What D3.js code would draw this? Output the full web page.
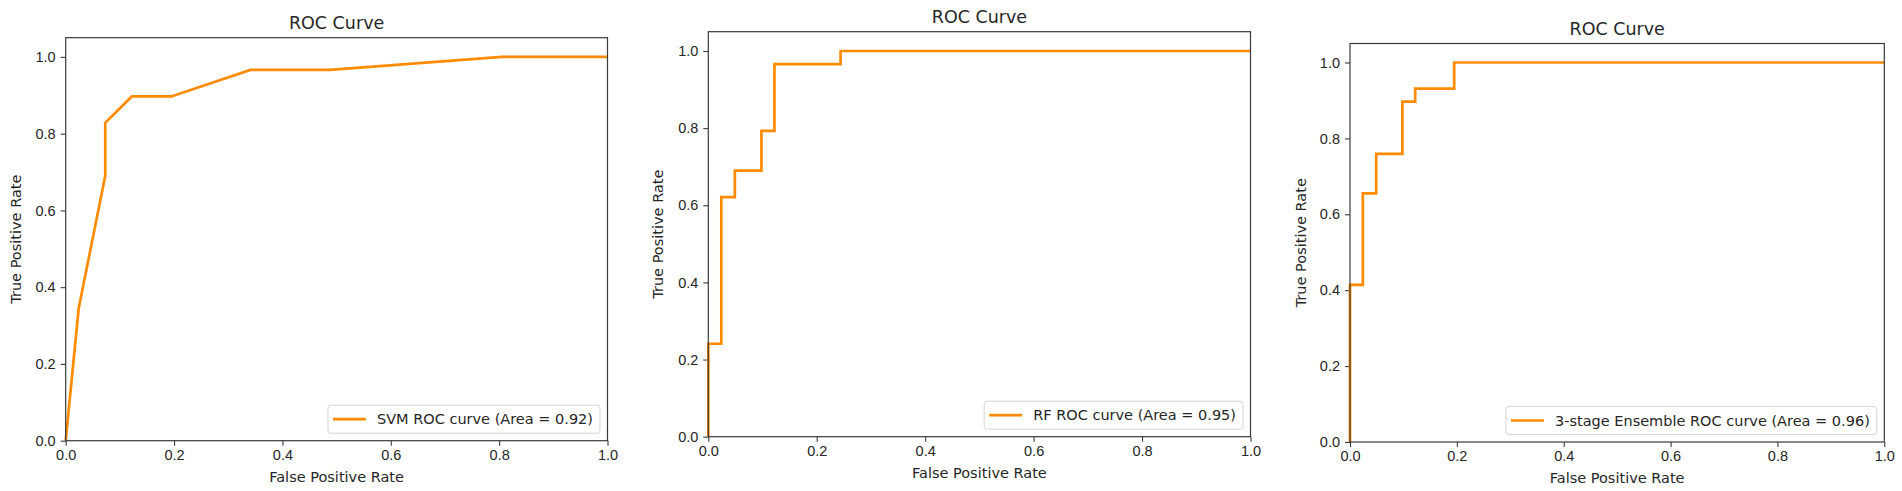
<!DOCTYPE html>
<html>
<head>
<meta charset="utf-8">
<script src="https://cdn.jsdelivr.net/npm/d3@7"></script>
<style>
  body { margin: 0; background: #fff; }
  svg { display: block; font-family: 'DejaVu Sans', sans-serif; }
</style>
</head>
<body>
<svg id="chart" width="1902" height="491"></svg>
<script>
// values
const xTicks = [0, 0.2, 0.4, 0.6, 0.8, 1.0];
const yTicks = [0, 0.2, 0.4, 0.6, 0.8, 1.0];

const svmFpr = [0, 0.024, 0.073, 0.073, 0.122, 0.195, 0.341, 0.488, 0.805, 1.0];
const svmTpr = [0, 0.345, 0.690, 0.828, 0.897, 0.897, 0.966, 0.966, 1.0, 1.0];

const rfFpr = [0, 0, 0.024, 0.024, 0.049, 0.049, 0.098, 0.098, 0.122, 0.122, 0.244, 0.244, 1.0];
const rfTpr = [0, 0.241, 0.241, 0.621, 0.621, 0.690, 0.690, 0.793, 0.793, 0.966, 0.966, 1.0, 1.0];

const ensFpr = [0, 0, 0.024, 0.024, 0.049, 0.049, 0.098, 0.098, 0.122, 0.122, 0.195, 0.195, 1.0];
const ensTpr = [0, 0.414, 0.414, 0.655, 0.655, 0.759, 0.759, 0.897, 0.897, 0.931, 0.931, 1.0, 1.0];

const labels = [
  'SVM ROC curve (Area = 0.92)',
  'RF ROC curve (Area = 0.95)',
  '3-stage Ensemble ROC curve (Area = 0.96)'
];

// panel boxes in page pixels
const panels = [
  { left: 65.7, top: 37.7, right: 607.5, bottom: 440.7, fpr: svmFpr, tpr: svmTpr, label: labels[0], ylab: 15.5 },
  { left: 708.3, top: 31.7, right: 1250.5, bottom: 436.7, fpr: rfFpr, tpr: rfTpr, label: labels[1], ylab: 658 },
  { left: 1350, top: 43.5, right: 1884.3, bottom: 442, fpr: ensFpr, tpr: ensTpr, label: labels[2], ylab: 1300.5 }
];

const textColor = '#262626';
const frameColor = '#3a3a3a';
const orange = '#ff8c00';
const fs = 14.5;

const svg = d3.select('#chart');

panels.forEach((p) => {
  const x = d3.scaleLinear().domain([0, 1]).range([p.left, p.right]);
  const y = d3.scaleLinear().domain([0, 1.05]).range([p.bottom, p.top]);

  const g = svg.append('g');

  // X 轴
  const xa = g.append('g')
    .attr('transform', `translate(0,${p.bottom})`)
    .call(d3.axisBottom(x).tickValues(xTicks).tickFormat(d3.format('.1f')).tickSize(5).tickPadding(4));
  // Y 轴
  const ya = g.append('g')
    .attr('transform', `translate(${p.left},0)`)
    .call(d3.axisLeft(y).tickValues(yTicks).tickFormat(d3.format('.1f')).tickSize(5).tickPadding(5));

  [xa, ya].forEach((a) => {
    a.select('.domain').remove();
    a.selectAll('line').attr('stroke', frameColor).attr('stroke-width', 1.1);
    a.selectAll('text').style('font-size', fs + 'px').attr('fill', textColor);
  });

  // 曲线
  const line = d3.line()
    .x((d) => x(d[0]))
    .y((d) => y(d[1]));

  g.append('path')
    .datum(p.fpr.map((f, i) => [f, p.tpr[i]]))
    .attr('fill', 'none')
    .attr('stroke', orange)
    .attr('stroke-width', 2.7)
    .attr('stroke-linejoin', 'miter')
    .attr('d', line);

  // frame
  g.append('rect')
    .attr('x', p.left)
    .attr('y', p.top)
    .attr('width', p.right - p.left)
    .attr('height', p.bottom - p.top)
    .attr('fill', 'none')
    .attr('stroke', frameColor)
    .attr('stroke-width', 1.2);

  // 标题
  g.append('text')
    .attr('x', (p.left + p.right) / 2)
    .attr('y', p.top - 8.5)
    .attr('text-anchor', 'middle')
    .style('font-size', '17.5px')
    .attr('fill', textColor)
    .text('ROC Curve');

  g.append('text')
    .attr('x', (p.left + p.right) / 2)
    .attr('y', p.bottom + 41)
    .attr('text-anchor', 'middle')
    .style('font-size', fs + 'px')
    .attr('fill', textColor)
    .text('False Positive Rate');

  g.append('text')
    .attr('transform', `translate(${p.ylab + 5},${(p.top + p.bottom) / 2}) rotate(-90)`)
    .attr('text-anchor', 'middle')
    .style('font-size', fs + 'px')
    .attr('fill', textColor)
    .text('True Positive Rate');

  // legend, lower right
  const lg = g.append('g');
  const box = lg.append('rect');
  const lt = lg.append('text')
    .style('font-size', fs + 'px')
    .attr('fill', textColor)
    .text(p.label);
  const tw = lt.node().getComputedTextLength();
  const bw = 49 + tw + 7;
  const bh = 28;
  const bx = p.right - 7.5 - bw;
  const by = p.bottom - 7.5 - bh;
  box.attr('x', bx).attr('y', by).attr('width', bw).attr('height', bh)
    .attr('rx', 3)
    .attr('fill', '#fff').attr('fill-opacity', 0.8)
    .attr('stroke', '#d4d4d4').attr('stroke-width', 1);
  lg.append('line')
    .attr('x1', bx + 5).attr('x2', bx + 38)
    .attr('y1', by + bh / 2).attr('y2', by + bh / 2)
    .attr('stroke', orange).attr('stroke-width', 2.7);
  lt.attr('x', bx + 49).attr('y', by + bh / 2 + 5);
});
</script>
</body>
</html>
